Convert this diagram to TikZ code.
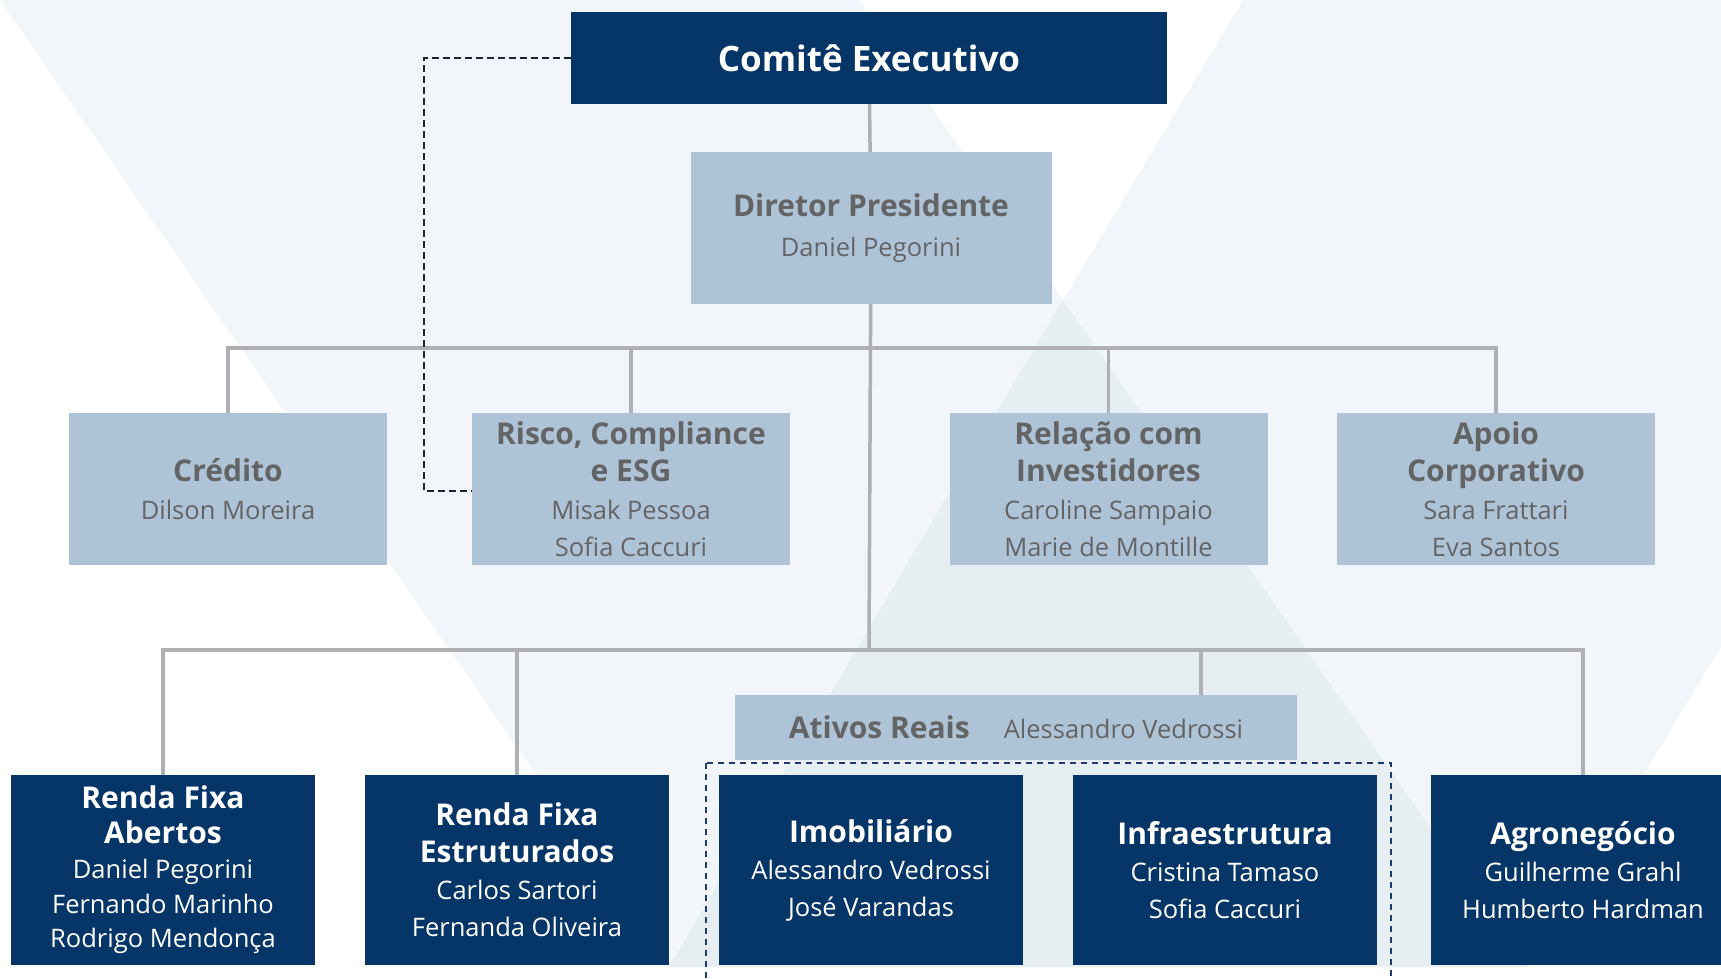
\documentclass[tikz,border=0pt]{standalone}
\usepackage{fontspec}
\setmainfont{Open Sans}
\usepackage{tikz}
\usetikzlibrary{positioning}
\definecolor{navy}{HTML}{063567}
\definecolor{steel}{HTML}{AFC3D6}
\definecolor{textgray}{HTML}{636466}
\definecolor{linegray}{HTML}{AEB0B3}
\definecolor{dashdark}{HTML}{1C2340}
\definecolor{groupnavy}{HTML}{1F3B70}
\definecolor{bglight}{HTML}{F2F6FA}
\definecolor{bgmid}{HTML}{E7EEF2}
\newcommand{\boxtitle}[1]{{\fontsize{30}{37}\selectfont\bfseries #1}}
\tikzstyle{navyblock} = [rectangle, fill=navy, text=white, align=center, inner sep=2pt,
minimum width=304pt, minimum height=190pt, font=\fontsize{25.5}{37}\selectfont]
\tikzstyle{steelblock} = [rectangle, fill=steel, text=textgray, align=center, inner sep=2pt,
minimum width=318pt, minimum height=152pt, font=\fontsize{25.5}{37.5}\selectfont]
\tikzstyle{link} = [line width=3.5pt, draw=linegray]
\tikzstyle{dashlink} = [line width=2.4pt, draw=dashdark, dash pattern=on 7pt off 4pt]
\tikzstyle{groupframe} = [line width=1.8pt, draw=groupnavy, dash pattern=on 6pt off 5pt]

\begin{document}
\begin{tikzpicture}[x=1pt, y=-1pt, node distance=354pt]
        \useasboundingbox (0,0) rectangle (1721,979);
        % background
        \fill [white] (0,0) rectangle (1721,979);
        \fill [bglight] (0,0) -- (859,0) -- (1063,300) -- (1243,0) -- (1721,0) -- (1721,647)
                -- (1527,967) -- (669,967) -- cycle;
        \fill [bgmid] (1063,300) -- (1527,967) -- (669,967) -- cycle;

        \node (comite) [rectangle, fill=navy, text=white, minimum width=596pt, minimum height=92pt,
                font=\fontsize{35}{40}\selectfont\bfseries] at (869,58) {Comitê Executivo};
        \node (diretor) [steelblock, minimum width=361pt] at (871,228)
                {\boxtitle{Diretor Presidente}\\[2pt]Daniel Pegorini};
        \node (credito) [steelblock] at (228,489) {\boxtitle{Crédito}\\Dilson Moreira};
        \node (risco) [steelblock] at (631,489)
                {\boxtitle{Risco, Compliance}\\\boxtitle{e ESG}\\Misak Pessoa\\Sofia Caccuri};
        \node (relacao) [steelblock] at (1108.5,489)
                {\boxtitle{Relação com}\\\boxtitle{Investidores}\\Caroline Sampaio\\Marie de Montille};
        \node (apoio) [steelblock] at (1496,489)
                {\boxtitle{Apoio}\\\boxtitle{Corporativo}\\Sara Frattari\\Eva Santos};

        \node (rfa) [navyblock, font=\fontsize{25.5}{34.8}\selectfont] at (163,870)
                {\boxtitle{Renda Fixa}\\\boxtitle{Abertos}\\Daniel Pegorini\\Fernando Marinho\\Rodrigo Mendonça};
        \node (rfe) [navyblock, right of=rfa]
                {\boxtitle{Renda Fixa}\\\boxtitle{Estruturados}\\Carlos Sartori\\Fernanda Oliveira};
        \node (imob) [navyblock, right of=rfe] {\boxtitle{Imobiliário}\\Alessandro Vedrossi\\José Varandas};
        \node (infra) [navyblock, right of=imob] {\boxtitle{Infraestrutura}\\Cristina Tamaso\\Sofia Caccuri};
        \node (agro) [navyblock, right of=infra, xshift=4pt] {\boxtitle{Agronegócio}\\Guilherme Grahl\\Humberto Hardman};

        \draw [groupframe] ([xshift=-13pt,yshift=12pt]imob.north west) rectangle ([xshift=14pt,yshift=-40pt]infra.south east);
        \node (ativos) [steelblock, minimum width=562pt, minimum height=65pt] at (1016,727.5)
                {\boxtitle{Ativos Reais}\hspace{34pt}Alessandro Vedrossi};

        \coordinate (bus1) at (869,348);
        \coordinate (bus2) at (869,650);
        \draw [link] (comite) -- (diretor);
        \draw [link] (diretor) -- (bus2);
        \draw [link] (credito.north) |- (bus1) -| (apoio.north);
        \draw [link] (risco) -- (risco |- bus1);
        \draw [link] (relacao) -- (relacao |- bus1);
        \draw [link] (rfa.north) |- (bus2) -| (agro.north);
        \draw [link] (rfe) -- (rfe |- bus2);
        \draw [link] ([xshift=185pt]ativos.north) -- ([xshift=185pt]ativos.north |- bus2);
        \draw [dashlink] (comite.west) -- ++(-147,0) |- ([yshift=-2pt]risco.west);
\end{tikzpicture}
\end{document}
